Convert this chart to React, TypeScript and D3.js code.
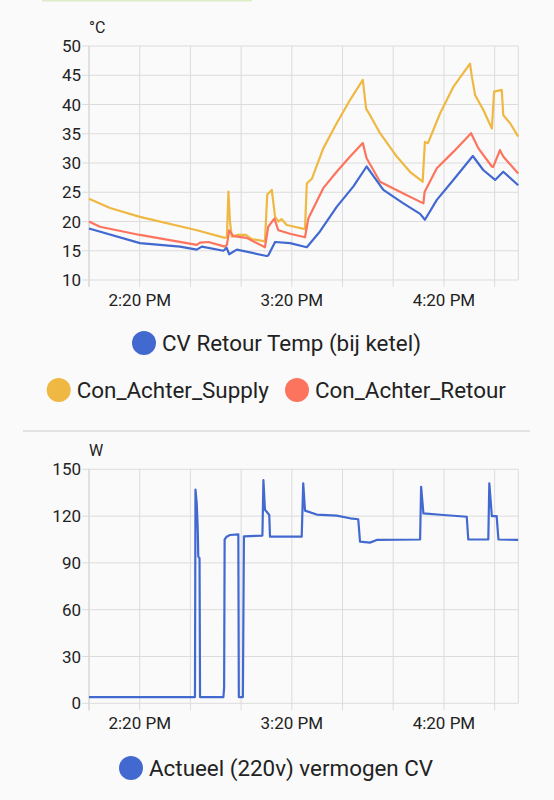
import React from 'react';
import * as d3 from 'd3';

// temperature series, [time, °C]
const supply: [string, number][] = [
  ['14:00:00', 23.9], ['14:08:20', 22.3], ['14:20:05', 20.8], ['14:42:36', 18.5],
  ['14:53:36', 17.2], ['14:54:24', 17.4], ['14:55:00', 25.1], ['14:55:36', 20.0],
  ['14:56:18', 17.4], ['14:58:24', 17.7], ['15:01:54', 17.7], ['15:04:12', 17.0],
  ['15:09:24', 16.6], ['15:10:18', 24.6], ['15:12:06', 25.4], ['15:13:24', 20.8],
  ['15:14:42', 20.0], ['15:16:00', 20.4], ['15:18:00', 19.4], ['15:25:12', 18.7],
  ['15:25:54', 26.5], ['15:27:54', 27.3], ['15:32:24', 32.5], ['15:37:42', 36.8],
  ['15:43:00', 40.8], ['15:48:00', 44.2], ['15:49:18', 39.3], ['15:50:48', 38.2],
  ['15:54:48', 35.1], ['16:01:24', 31.1], ['16:06:36', 28.5], ['16:11:36', 26.8],
  ['16:12:30', 33.6], ['16:13:42', 33.4], ['16:18:30', 38.5], ['16:23:42', 43.0],
  ['16:30:18', 47.0], ['16:31:00', 44.8], ['16:32:18', 41.6], ['16:35:30', 39.1],
  ['16:38:54', 35.9], ['16:39:48', 42.2], ['16:42:48', 42.5], ['16:43:24', 38.2],
  ['16:46:06', 36.8], ['16:49:18', 34.5],
];

const retour: [string, number][] = [
  ['14:00:00', 20.0], ['14:04:18', 19.1], ['14:20:06', 17.7], ['14:42:30', 16.0],
  ['14:43:48', 16.4], ['14:47:06', 16.5], ['14:53:36', 15.7], ['14:54:24', 16.0],
  ['14:55:18', 18.5], ['14:56:54', 17.5], ['15:02:12', 17.2], ['15:09:24', 15.6],
  ['15:10:42', 19.1], ['15:13:06', 20.5], ['15:14:42', 18.5], ['15:19:18', 17.9],
  ['15:25:12', 17.3], ['15:26:30', 20.5], ['15:32:24', 25.7], ['15:37:42', 28.5],
  ['15:43:00', 31.1], ['15:48:00', 33.4], ['15:49:30', 30.8], ['15:54:48', 26.8],
  ['16:04:00', 24.8], ['16:11:54', 23.1], ['16:12:24', 25.1], ['16:17:12', 29.1],
  ['16:23:42', 31.9], ['16:30:42', 35.1], ['16:33:36', 32.5], ['16:38:54', 29.4],
  ['16:39:24', 29.3], ['16:42:06', 32.2], ['16:43:24', 31.1], ['16:49:18', 28.2],
];

const cvRetour: [string, number][] = [
  ['14:00:00', 18.8], ['14:20:06', 16.3], ['14:35:54', 15.7], ['14:42:30', 15.2],
  ['14:44:30', 15.7], ['14:53:00', 15.0], ['14:54:18', 15.5], ['14:55:18', 14.4],
  ['14:58:18', 15.2], ['15:10:06', 14.1], ['15:10:42', 14.2], ['15:13:24', 16.5],
  ['15:19:18', 16.3], ['15:25:54', 15.6], ['15:31:06', 18.3], ['15:37:42', 22.5],
  ['15:44:18', 26.0], ['15:49:30', 29.4], ['15:56:06', 25.4], ['16:04:00', 23.1],
  ['16:10:36', 21.3], ['16:12:30', 20.3], ['16:17:12', 23.7], ['16:23:42', 27.1],
  ['16:31:24', 31.2], ['16:35:30', 28.8], ['16:40:12', 27.1], ['16:43:24', 28.5],
  ['16:49:18', 26.2],
];

// power series, [time, W]
const power: [string, number][] = [
  ['14:00:00', 4], ['14:41:48', 4], ['14:42:00', 137], ['14:42:30', 128],
  ['14:42:54', 111], ['14:43:06', 94], ['14:43:36', 93], ['14:43:48', 4],
  ['14:53:00', 4], ['14:53:18', 10], ['14:53:30', 105], ['14:54:18', 106.8],
  ['14:55:36', 107.9], ['14:58:54', 108.3], ['14:59:06', 4], ['15:00:42', 4],
  ['15:01:06', 107], ['15:08:24', 107.5], ['15:08:48', 143], ['15:09:24', 124],
  ['15:10:06', 122.8], ['15:11:06', 120.7], ['15:11:24', 106.8], ['15:23:54', 106.8],
  ['15:24:30', 141], ['15:25:12', 123.5], ['15:29:48', 121], ['15:37:42', 120.3],
  ['15:43:00', 118.6], ['15:46:12', 118], ['15:46:54', 103.6], ['15:50:48', 103],
  ['15:53:30', 104.7], ['16:10:36', 105], ['16:11:00', 138.8], ['16:11:54', 121.8],
  ['16:19:48', 120.7], ['16:29:00', 119.6], ['16:29:36', 105], ['16:37:30', 105],
  ['16:37:54', 141], ['16:38:54', 120], ['16:40:48', 120], ['16:41:30', 105],
  ['16:49:18', 104.7],
];

const tempTicks = [10, 15, 20, 25, 30, 35, 40, 45, 50];
const powerTicks = [0, 30, 60, 90, 120, 150];
const timeStart = '14:00:00';
const timeEnd = '16:49:20';

const colors = { blue: '#4269d0', yellow: '#efb843', red: '#fd745e' };
const parse = d3.timeParse('%H:%M:%S');
const fmt = d3.timeFormat('%-I:%M %p');

const left = 89;
const right = 518.3;
const font = 'Roboto, sans-serif';

const x = d3.scaleTime()
  .domain([parse(timeStart)!, parse(timeEnd)!])
  .range([left, right]);

type Series = { data: [string, number][]; color: string };

function Panel({ top, bottom, domain, ticks, unit, series }: {
  top: number; bottom: number; domain: [number, number]; ticks: number[]; unit: string; series: Series[];
}) {
  const y = d3.scaleLinear().domain(domain).range([bottom, top]);
  const line = d3.line<[string, number]>()
    .x(d => x(parse(d[0])!))
    .y(d => y(d[1]));
  const gridTimes = x.ticks(d3.timeMinute.every(20)!);
  return (
    <g>
      {ticks.map(t => (
        <g key={t}>
          <line x1={left - 7} x2={right} y1={y(t)} y2={y(t)} stroke="#dcdcdc" strokeWidth={1} />
          <text x={left - 8} y={y(t)} dy="0.36em" textAnchor="end" fontSize={17} fill="#222">{t}</text>
        </g>
      ))}
      <line x1={left} x2={left} y1={top} y2={bottom + 7} stroke="#cfcfcf" strokeWidth={1} />
      <line x1={right} x2={right} y1={top} y2={bottom} stroke="#dcdcdc" strokeWidth={1} />
      {gridTimes.map(t => (
        <line key={+t} x1={x(t)} x2={x(t)} y1={top} y2={bottom + 7} stroke="#dcdcdc" strokeWidth={1} />
      ))}
      {gridTimes.filter(t => t.getMinutes() === 20).map(t => (
        <text key={+t} x={x(t)} y={bottom + 26} textAnchor="middle" fontSize={17} fill="#222">{fmt(t)}</text>
      ))}
      <text x={left} y={top - 13} fontSize={16} fill="#222">{unit}</text>
      {series.map((s, i) => (
        <path key={i} d={line(s.data) ?? ''} fill="none" stroke={s.color} strokeWidth={2.2} strokeLinejoin="round" />
      ))}
    </g>
  );
}

function LegendItem({ cx, cy, color, label }: { cx: number; cy: number; color: string; label: string }) {
  return (
    <g>
      <circle cx={cx} cy={cy} r={12} fill={color} />
      <text x={cx + 18} y={cy} dy="0.36em" fontSize={22.4} fill="#222">{label}</text>
    </g>
  );
}

export default function App() {
  return (
    <svg width={554} height={800} style={{ position: 'absolute', left: 0, top: 0, fontFamily: font }}>
      <rect width={554} height={800} fill="#fafafa" />
      <rect x={42} y={0} width={210} height={1.5} fill="#dcedc8" />
      <Panel top={46} bottom={280} domain={[10, 50]} ticks={tempTicks} unit="°C"
        series={[
          { data: supply, color: colors.yellow },
          { data: retour, color: colors.red },
          { data: cvRetour, color: colors.blue },
        ]} />
      <LegendItem cx={144} cy={343} color={colors.blue} label="CV Retour Temp (bij ketel)" />
      <LegendItem cx={58.7} cy={390} color={colors.yellow} label="Con_Achter_Supply" />
      <LegendItem cx={297} cy={390} color={colors.red} label="Con_Achter_Retour" />
      <line x1={23} x2={530} y1={431} y2={431} stroke="#e2e2e2" strokeWidth={2} />
      <Panel top={469.3} bottom={703.3} domain={[0, 150]} ticks={powerTicks} unit="W"
        series={[{ data: power, color: colors.blue }]} />
      <LegendItem cx={131} cy={768} color={colors.blue} label="Actueel (220v) vermogen CV" />
    </svg>
  );
}
